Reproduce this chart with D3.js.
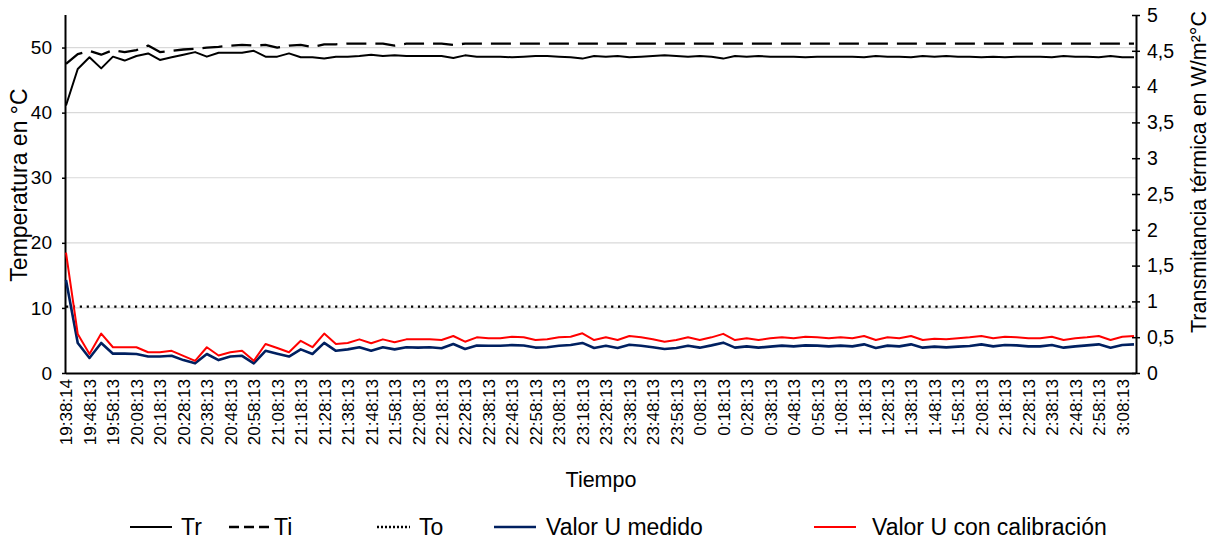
<!DOCTYPE html>
<html>
<head>
<meta charset="utf-8">
<script src="https://cdn.jsdelivr.net/npm/d3@7/dist/d3.min.js"></script>
<style>
  html, body { margin: 0; padding: 0; background: #fff; }
  text { font-family: "Liberation Sans", Arial, sans-serif; fill: #000; }
</style>
</head>
<body>
<svg id="chart" width="1217" height="544"></svg>
<script>
const categories = [
  "19:38:14","19:43:13","19:48:13","19:53:13","19:58:13",
  "20:03:13","20:08:13","20:13:13","20:18:13","20:23:13","20:28:13","20:33:13","20:38:13","20:43:13","20:48:13","20:53:13","20:58:13",
  "21:03:13","21:08:13","21:13:13","21:18:13","21:23:13","21:28:13","21:33:13","21:38:13","21:43:13","21:48:13","21:53:13","21:58:13",
  "22:03:13","22:08:13","22:13:13","22:18:13","22:23:13","22:28:13","22:33:13","22:38:13","22:43:13","22:48:13","22:53:13","22:58:13",
  "23:03:13","23:08:13","23:13:13","23:18:13","23:23:13","23:28:13","23:33:13","23:38:13","23:43:13","23:48:13","23:53:13","23:58:13",
  "0:03:13","0:08:13","0:13:13","0:18:13","0:23:13","0:28:13","0:33:13","0:38:13","0:43:13","0:48:13","0:53:13","0:58:13",
  "1:03:13","1:08:13","1:13:13","1:18:13","1:23:13","1:28:13","1:33:13","1:38:13","1:43:13","1:48:13","1:53:13","1:58:13",
  "2:03:13","2:08:13","2:13:13","2:18:13","2:23:13","2:28:13","2:33:13","2:38:13","2:43:13","2:48:13","2:53:13","2:58:13",
  "3:03:13","3:08:13","3:13:13"
];
const tickLabels = [
  "19:38:14","19:48:13","19:58:13","20:08:13","20:18:13","20:28:13","20:38:13","20:48:13","20:58:13",
  "21:08:13","21:18:13","21:28:13","21:38:13","21:48:13","21:58:13","22:08:13","22:18:13","22:28:13",
  "22:38:13","22:48:13","22:58:13","23:08:13","23:18:13","23:28:13","23:38:13","23:48:13","23:58:13",
  "0:08:13","0:18:13","0:28:13","0:38:13","0:48:13","0:58:13","1:08:13","1:18:13","1:28:13","1:38:13",
  "1:48:13","1:58:13","2:08:13","2:18:13","2:28:13","2:38:13","2:48:13","2:58:13","3:08:13"
];
const tempTicks = [0, 10, 20, 30, 40, 50];
const uTicks = [0, 0.5, 1, 1.5, 2, 2.5, 3, 3.5, 4, 4.5, 5];

const tr = [
  41.1,46.7,48.5,46.8,48.6,48.0,48.7,49.1,48.1,48.5,48.9,49.3,48.6,49.2,49.2,49.2,49.5,48.6,48.6,49.1,
  48.5,48.5,48.3,48.6,48.6,48.7,48.9,48.7,48.8,48.7,48.7,48.7,48.7,48.4,48.8,48.6,48.6,48.6,48.5,48.6,
  48.7,48.7,48.6,48.5,48.3,48.7,48.6,48.7,48.5,48.6,48.7,48.8,48.7,48.6,48.7,48.6,48.3,48.7,48.6,48.7,
  48.6,48.6,48.6,48.5,48.6,48.6,48.6,48.6,48.5,48.7,48.6,48.6,48.5,48.7,48.6,48.7,48.6,48.6,48.5,48.6,
  48.5,48.6,48.6,48.6,48.5,48.7,48.6,48.6,48.5,48.7,48.5,48.5
];
const ti = [
  47.5,49.0,49.5,48.9,49.6,49.3,49.6,50.3,49.3,49.5,49.7,49.8,50.0,50.1,50.3,50.4,50.3,50.4,50.0,50.3,
  50.4,50.1,50.5,50.5,50.6,50.6,50.6,50.6,50.3,50.6,50.6,50.6,50.6,50.4,50.6,50.6,50.6,50.6,50.6,50.6,
  50.6,50.6,50.6,50.6,50.6,50.6,50.6,50.6,50.6,50.6,50.6,50.6,50.6,50.6,50.6,50.6,50.6,50.6,50.6,50.6,
  50.6,50.6,50.6,50.6,50.6,50.6,50.6,50.6,50.6,50.6,50.6,50.6,50.6,50.6,50.6,50.6,50.6,50.6,50.6,50.6,
  50.6,50.6,50.6,50.6,50.6,50.6,50.6,50.6,50.6,50.6,50.6,50.6
];
const to = [
  10.2,10.2,10.2,10.2,10.2,10.2,10.2,10.2,10.2,10.2,10.2,10.2,10.2,10.2,10.2,10.2,10.2,10.2,10.2,10.2,
  10.2,10.2,10.2,10.2,10.2,10.2,10.2,10.2,10.2,10.2,10.2,10.2,10.2,10.2,10.2,10.2,10.2,10.2,10.2,10.2,
  10.2,10.2,10.2,10.2,10.2,10.2,10.2,10.2,10.2,10.2,10.2,10.2,10.2,10.2,10.2,10.2,10.2,10.2,10.2,10.2,
  10.2,10.2,10.2,10.2,10.2,10.2,10.2,10.2,10.2,10.2,10.2,10.2,10.2,10.2,10.2,10.2,10.2,10.2,10.2,10.2,
  10.2,10.2,10.2,10.2,10.2,10.2,10.2,10.2,10.2,10.2,10.2,10.2
];
const uMedido = [
  1.30,0.42,0.21,0.42,0.27,0.27,0.265,0.23,0.23,0.24,0.18,0.135,0.265,0.18,0.23,0.24,0.135,0.31,0.27,0.23,
  0.33,0.265,0.42,0.31,0.33,0.36,0.31,0.36,0.33,0.36,0.355,0.36,0.345,0.405,0.335,0.385,0.38,0.38,0.39,0.385,
  0.355,0.36,0.38,0.39,0.42,0.35,0.38,0.35,0.395,0.38,0.36,0.335,0.35,0.38,0.354,0.386,0.424,0.354,0.372,0.354,
  0.368,0.382,0.372,0.386,0.382,0.372,0.382,0.372,0.40,0.349,0.382,0.372,0.40,0.354,0.368,0.358,0.368,0.377,0.40,0.372,
  0.391,0.386,0.372,0.372,0.391,0.354,0.372,0.386,0.40,0.354,0.391,0.40
];
const uCalibrado = [
  1.68,0.545,0.265,0.55,0.36,0.36,0.36,0.29,0.29,0.31,0.24,0.17,0.36,0.245,0.29,0.31,0.17,0.405,0.35,0.29,
  0.45,0.36,0.55,0.405,0.42,0.47,0.415,0.47,0.43,0.47,0.47,0.47,0.46,0.517,0.437,0.498,0.484,0.484,0.507,0.498,
  0.46,0.47,0.498,0.507,0.554,0.46,0.498,0.46,0.517,0.498,0.47,0.437,0.46,0.498,0.46,0.498,0.547,0.46,0.484,0.46,
  0.484,0.498,0.484,0.507,0.498,0.484,0.498,0.484,0.517,0.46,0.498,0.484,0.517,0.46,0.479,0.47,0.484,0.498,0.517,0.484,
  0.507,0.498,0.484,0.484,0.507,0.46,0.484,0.498,0.517,0.46,0.507,0.517
];

const svg = d3.select("#chart");
const L = 66, R = 1136, T = 15, B = 373;

const x = d3.scalePoint().domain(categories).range([L, R - 2]);
const yT = d3.scaleLinear().domain([0, 55]).range([B, T]);
const yU = d3.scaleLinear().domain([0, 5]).range([B, T]);

// gridlines
svg.append("g").selectAll("line").data(tempTicks.filter(d => d > 0)).join("line")
  .attr("x1", L).attr("x2", R).attr("y1", d => yT(d)).attr("y2", d => yT(d))
  .attr("stroke", "#d9d9d9").attr("stroke-width", 1.2);

// left axis
const gL = svg.append("g").attr("transform", `translate(${L},0)`)
  .call(d3.axisLeft(yT).tickValues(tempTicks).tickSize(4).tickPadding(10).tickFormat(d3.format("d")));
gL.select(".domain").attr("d", `M-0.5,${T}V${B}`).attr("stroke", "#000").attr("stroke-width", 2);
gL.selectAll(".tick line").attr("stroke", "#000").attr("stroke-width", 1.5);
gL.selectAll(".tick text").attr("font-size", 19).attr("font-family", "Liberation Sans, Arial, sans-serif");

// right axis
const gR = svg.append("g").attr("transform", `translate(${R},0)`)
  .call(d3.axisRight(yU).tickValues(uTicks).tickSize(4).tickPadding(7)
    .tickFormat(d => String(d).replace(".", ",")));
gR.select(".domain").attr("d", `M0.5,${T}V${B}`).attr("stroke", "#000").attr("stroke-width", 2);
gR.selectAll(".tick line").attr("x1", -4).attr("stroke", "#000").attr("stroke-width", 1.5);
gR.selectAll(".tick text").attr("font-size", 19.5).attr("font-family", "Liberation Sans, Arial, sans-serif");

// bottom axis
const gB = svg.append("g").attr("transform", `translate(0,${B})`)
  .call(d3.axisBottom(x).tickValues(tickLabels).tickSize(0).tickPadding(0));
gB.select(".domain").attr("d", `M${L},0.5H${R}`).attr("stroke", "#000").attr("stroke-width", 2.2);
gB.selectAll(".tick text")
  .attr("font-size", 17).attr("font-family", "Liberation Sans, Arial, sans-serif")
  .attr("transform", "rotate(-90)")
  .attr("text-anchor", "end")
  .attr("x", -6).attr("y", 0).attr("dy", "0.35em");

// lines
const lineT = d3.line().x((d, i) => x(categories[i])).y(d => yT(d));
const lineU = d3.line().x((d, i) => x(categories[i])).y(d => yU(d));

const series = [
  {data: tr, line: lineT, color: "#000", width: 2, dash: null},
  {data: ti, line: lineT, color: "#000", width: 2.3, dash: "20,9"},
  {data: to, line: lineT, color: "#000", width: 2.3, dash: "2.2,4.7"},
  {data: uMedido, line: lineU, color: "#002060", width: 2.6, dash: null},
  {data: uCalibrado, line: lineU, color: "#ff0000", width: 2, dash: null}
];
series.forEach(s => {
  svg.append("path").datum(s.data)
    .attr("d", s.line)
    .attr("fill", "none")
    .attr("stroke", s.color)
    .attr("stroke-width", s.width)
    .attr("stroke-linejoin", "round")
    .attr("stroke-dasharray", s.dash);
});

// axis titles
svg.append("text").attr("transform", "translate(27,185) rotate(-90)")
  .attr("text-anchor", "middle").attr("font-size", 23).text("Temperatura en °C");
svg.append("text").attr("transform", "translate(1206,172) rotate(-90)")
  .attr("text-anchor", "middle").attr("font-size", 21.5)
  .text("Transmitancia térmica en W/m²°C");
svg.append("text").attr("x", 601).attr("y", 487)
  .attr("text-anchor", "middle").attr("font-size", 21.5).text("Tiempo");

// legend
const legendNames = ["Tr", "Ti", "To", "Valor U medido", "Valor U con calibración"];
const legendLineX = [130, 229, 377, 494, 814];
const legendLineW = [42, 41, 33, 42, 42];
const legendTextX = [181, 274, 419, 546, 872];
const legendY = 527;
legendNames.forEach((name, i) => {
  const s = series[i];
  svg.append("line").attr("x1", legendLineX[i]).attr("x2", legendLineX[i] + legendLineW[i])
    .attr("y1", legendY).attr("y2", legendY)
    .attr("stroke", s.color).attr("stroke-width", s.width)
    .attr("stroke-dasharray", i === 1 ? "10,5" : (i === 2 ? "2,2" : null));
  svg.append("text").attr("x", legendTextX[i]).attr("y", legendY + 8)
    .attr("font-size", 23).text(name);
});
</script>
</body>
</html>
